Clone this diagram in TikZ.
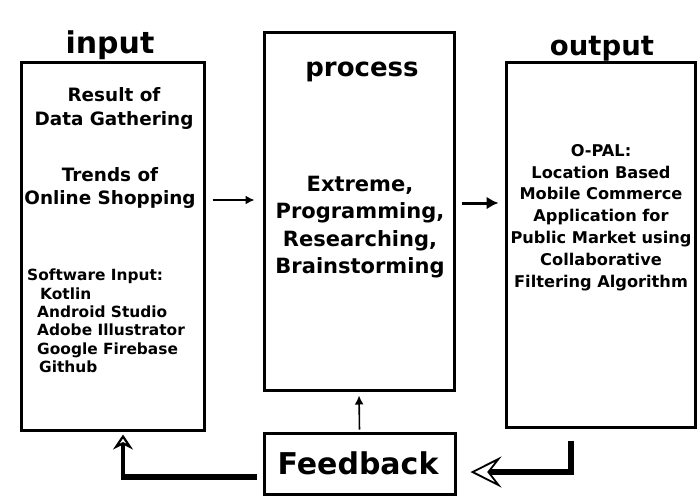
\documentclass[tikz,border=0pt]{standalone}
\usepackage{fontspec}
\setmainfont{DejaVu Sans}
\usetikzlibrary{arrows.meta}
\begin{document}
\begin{tikzpicture}[x=1pt,y=-1pt,
  blk/.style={draw, line width=3pt, inner sep=0pt},
  ttl/.style={font=\bfseries\fontsize{#1}{#1}\selectfont, inner sep=0pt},
  txt/.style={font=\bfseries\fontsize{18.4}{23.5}\selectfont, align=center, inner sep=0pt},
  thinarrow/.style={line width=1.6pt, -{Latex[length=9pt,width=9pt]}},
  boldarrow/.style={line width=3pt, -{Latex[length=12pt,width=13pt]}},
  loopline/.style={line width=6pt},
  looparrow/.style={line width=4.5pt}]
\useasboundingbox[fill=white] (0,0) rectangle (700,500);

% boxes
\node[blk, minimum width=183pt, minimum height=367pt] (inbox) at (112.5,246.5) {};
\node[blk, minimum width=190pt, minimum height=357pt] (procbox) at (359,211.5) {};
\node[blk, minimum width=189pt, minimum height=364pt] (outbox) at (600.5,245) {};
\node[blk, minimum width=191pt, minimum height=61pt] (fbbox) at (359.5,463.5) {};

% titles
\node[ttl=30] (tin) at (110,45.5) {input};
\node[ttl=27.5] (tout) at (602,49) {output};
\node[ttl=26] (tproc) at (362,72) {process};
\node[ttl=30] (tfb) at (358,463) {Feedback};

% input texts
\node[txt] (in1) at (114,108.5) {Result of\\Data Gathering};
\node[txt] (in2) at (110,188) {Trends of\\Online Shopping};
\node[font=\bfseries\fontsize{15.4}{18.4}\selectfont, align=left, inner sep=0pt, anchor=west] (in3) at (27,321)
  {Software Input:\\
   \hspace*{13pt}Kotlin\\
   \hspace*{10pt}Android Studio\\
   \hspace*{10pt}Adobe Illustrator\\
   \hspace*{10pt}Google Firebase\\
   \hspace*{12pt}Github};

% process text
\node[font=\bfseries\fontsize{21}{27.3}\selectfont, align=center, inner sep=0pt] (proct) at (360,227)
  {Extreme,\\Programming,\\Researching,\\Brainstorming};

% output text
\node[font=\bfseries\fontsize{16.2}{21.8}\selectfont, align=center, inner sep=0pt] (outt) at (601,217.5)
  {O-PAL:\\Location Based\\Mobile Commerce\\Application for\\Public Market using\\Collaborative\\Filtering Algorithm};

% connectors
\draw[thinarrow, shorten <=7pt, shorten >=8pt] (inbox.east |- 0,200) -- (procbox.west |- 0,200);
\draw[boldarrow, shorten <=6pt, shorten >=6pt] (procbox.east |- 0,203) -- (outbox.west |- 0,203);
\draw[thinarrow, shorten <=2pt, shorten >=4pt] (fbbox.north) -- (procbox.south);

% left feedback loop
\coordinate (lc) at (123,477);
\draw[loopline, shorten <=6pt] (fbbox.west |- lc) -- ([xshift=-2.25pt]lc);
\draw[looparrow, shorten >=3pt, -{Stealth[open, fill=white, length=15pt, width=20pt, inset=5pt, line width=2.2pt]}]
  ([yshift=-3pt]lc) -- (inbox.south -| lc);

% right feedback loop
\coordinate (rc) at (571,472);
\draw[loopline, shorten <=12pt] (outbox.south -| rc) -- ([yshift=-3pt]rc);
\draw[loopline, shorten >=14pt, -{Stealth[open, fill=white, length=31pt, width=31pt, inset=12pt, line width=1.8pt]}]
  ([xshift=3pt]rc) -- (fbbox.east |- rc);
\end{tikzpicture}
\end{document}
